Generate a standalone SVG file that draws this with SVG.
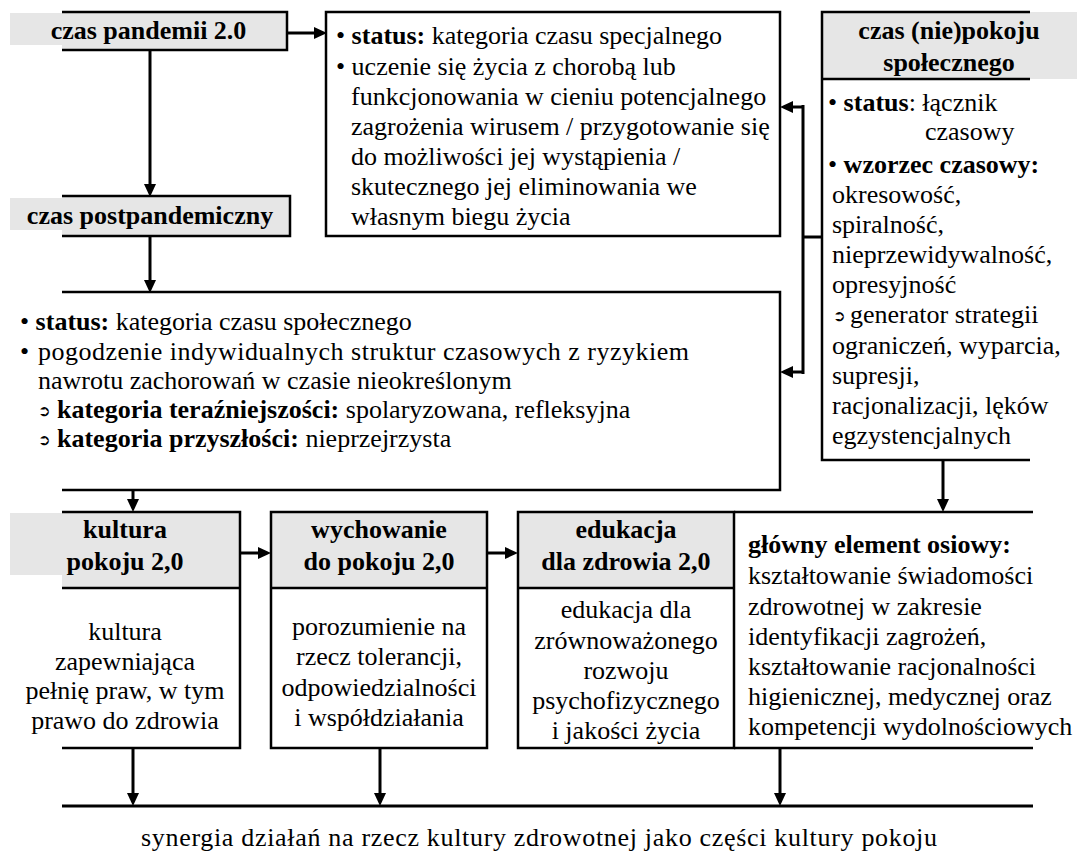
<svg xmlns="http://www.w3.org/2000/svg" width="1077" height="860" viewBox="0 0 1077 860">
<rect width="1077" height="860" fill="#fff"/>

<g id="connectors" stroke="#000" stroke-width="3" fill="none">
<line x1="287" y1="33" x2="314" y2="33"/>
<polygon points="314,27 327,33 314,39" fill="#000" stroke="none"/>
<line x1="150" y1="50" x2="150" y2="184"/>
<polygon points="144,184 150,197 156,184" fill="#000" stroke="none"/>
<line x1="150" y1="236" x2="150" y2="280"/>
<polygon points="144,280 150,293 156,280" fill="#000" stroke="none"/>
<line x1="822" y1="237" x2="803" y2="237"/>
<line x1="803" y1="105" x2="803" y2="374"/>
<line x1="804" y1="107" x2="792" y2="107"/>
<polygon points="793,101 780,107 793,113" fill="#000" stroke="none"/>
<line x1="804" y1="372" x2="792" y2="372"/>
<polygon points="793,366 780,372 793,378" fill="#000" stroke="none"/>
<line x1="133" y1="490" x2="133" y2="500"/>
<polygon points="127,499 133,512 139,499" fill="#000" stroke="none"/>
<line x1="240" y1="553" x2="259" y2="553"/>
<polygon points="258,547 271,553 258,559" fill="#000" stroke="none"/>
<line x1="487" y1="553" x2="506" y2="553"/>
<polygon points="505,547 518,553 505,559" fill="#000" stroke="none"/>
<line x1="943" y1="460" x2="943" y2="500"/>
<polygon points="937,499 943,512 949,499" fill="#000" stroke="none"/>
<line x1="133" y1="748" x2="133" y2="794"/>
<polygon points="127,793 133,806 139,793" fill="#000" stroke="none"/>
<line x1="380" y1="748" x2="380" y2="794"/>
<polygon points="374,793 380,806 386,793" fill="#000" stroke="none"/>
<line x1="780" y1="748" x2="780" y2="794"/>
<polygon points="774,793 780,806 786,793" fill="#000" stroke="none"/>
<line x1="62" y1="806" x2="1033" y2="806"/>
</g>

<g id="czas-pandemii">
<rect x="10" y="13" width="52" height="32" fill="#e6e6e6"/>
<rect x="62" y="12" width="225" height="38" fill="#e6e6e6"/>
<path d="M62,12 H287 V50 H62" fill="none" stroke="#000" stroke-width="2.5"/>
<text font-family="Liberation Serif" font-size="26" font-weight="bold" text-anchor="middle" x="148.5" y="39">czas pandemii 2.0</text>
</g>

<g id="status-specjalny">
<rect x="326" y="12" width="454" height="224" fill="none" stroke="#000" stroke-width="2.5"/>
<text font-family="Liberation Serif" font-size="26" x="336" y="44">• <tspan font-weight="bold">status:</tspan> kategoria czasu specjalnego</text>
<text font-family="Liberation Serif" font-size="26" x="336" y="75">• uczenie się życia z chorobą lub</text>
<text font-family="Liberation Serif" font-size="26" x="351" y="105">funkcjonowania w cieniu potencjalnego</text>
<text font-family="Liberation Serif" font-size="26" x="351" y="135">zagrożenia wirusem / przygotowanie się</text>
<text font-family="Liberation Serif" font-size="26" x="351" y="165">do możliwości jej wystąpienia /</text>
<text font-family="Liberation Serif" font-size="26" x="351" y="195">skutecznego jej eliminowania we</text>
<text font-family="Liberation Serif" font-size="26" x="351" y="225">własnym biegu życia</text>
</g>

<g id="czas-postpandemiczny">
<rect x="10" y="198" width="52" height="32" fill="#e6e6e6"/>
<rect x="62" y="196" width="228" height="40" fill="#e6e6e6"/>
<path d="M62,196 H290 V236 H62" fill="none" stroke="#000" stroke-width="2.5"/>
<text font-family="Liberation Serif" font-size="26" font-weight="bold" text-anchor="middle" x="150" y="224">czas postpandemiczny</text>
</g>

<g id="status-spoleczny">
<path d="M62,292 H780 V490 H62" fill="none" stroke="#000" stroke-width="2.5"/>
<text font-family="Liberation Serif" font-size="26" x="20" y="330">• <tspan font-weight="bold">status:</tspan> kategoria czasu społecznego</text>
<text font-family="Liberation Serif" font-size="26" x="20" y="360">•</text>
<text font-family="Liberation Serif" font-size="26" x="38" y="360" textLength="651" lengthAdjust="spacing">pogodzenie indywidualnych struktur czasowych z ryzykiem</text>
<text font-family="Liberation Serif" font-size="26" x="38" y="389">nawrotu zachorowań w czasie nieokreślonym</text>
<text font-family="DejaVu Sans" font-size="15" x="38" y="416">➲</text>
<text font-family="Liberation Serif" font-size="26" x="57" y="418"><tspan font-weight="bold">kategoria teraźniejszości:</tspan> spolaryzowana, refleksyjna</text>
<text font-family="DejaVu Sans" font-size="15" x="38" y="445">➲</text>
<text font-family="Liberation Serif" font-size="26" x="57" y="447"><tspan font-weight="bold">kategoria przyszłości:</tspan> nieprzejrzysta</text>
</g>

<g id="czas-niepokoju">
<rect x="822" y="12" width="255" height="67" fill="#e6e6e6"/>
<path d="M1030,12 H822 V460 H1030 M822,79 H1030" fill="none" stroke="#000" stroke-width="2.5"/>
<text font-family="Liberation Serif" font-size="26" font-weight="bold" text-anchor="middle" x="949" y="39">czas (nie)pokoju</text>
<text font-family="Liberation Serif" font-size="26" font-weight="bold" text-anchor="middle" x="949" y="71">społecznego</text>
<text font-family="Liberation Serif" font-size="26" x="828" y="111">• <tspan font-weight="bold">status</tspan>: łącznik</text>
<text font-family="Liberation Serif" font-size="26" x="925" y="140">czasowy</text>
<text font-family="Liberation Serif" font-size="26" x="828" y="173">• <tspan font-weight="bold">wzorzec czasowy:</tspan></text>
<text font-family="Liberation Serif" font-size="26" x="832" y="203">okresowość,</text>
<text font-family="Liberation Serif" font-size="26" x="832" y="233">spiralność,</text>
<text font-family="Liberation Serif" font-size="26" x="832" y="263">nieprzewidywalność,</text>
<text font-family="Liberation Serif" font-size="26" x="832" y="293">opresyjność</text>
<text font-family="DejaVu Sans" font-size="15" x="833" y="321">➲</text>
<text font-family="Liberation Serif" font-size="26" x="850" y="323">generator strategii</text>
<text font-family="Liberation Serif" font-size="26" x="832" y="354">ograniczeń, wyparcia,</text>
<text font-family="Liberation Serif" font-size="26" x="832" y="384">supresji,</text>
<text font-family="Liberation Serif" font-size="26" x="832" y="414">racjonalizacji, lęków</text>
<text font-family="Liberation Serif" font-size="26" x="832" y="444">egzystencjalnych</text>
</g>

<g id="kultura-pokoju">
<rect x="10" y="513" width="52" height="62" fill="#e6e6e6"/>
<rect x="62" y="512" width="178" height="76" fill="#e6e6e6"/>
<path d="M62,512 H240 V748 H62 M62,588 H240" fill="none" stroke="#000" stroke-width="2.5"/>
<text font-family="Liberation Serif" font-size="26" font-weight="bold" text-anchor="middle" x="125" y="538">kultura</text>
<text font-family="Liberation Serif" font-size="26" font-weight="bold" text-anchor="middle" x="125" y="570">pokoju 2,0</text>
<text font-family="Liberation Serif" font-size="26" text-anchor="middle" x="125" y="640">kultura</text>
<text font-family="Liberation Serif" font-size="26" text-anchor="middle" x="125" y="670">zapewniająca</text>
<text font-family="Liberation Serif" font-size="26" text-anchor="middle" x="125" y="699">pełnię praw, w tym</text>
<text font-family="Liberation Serif" font-size="26" text-anchor="middle" x="125" y="729">prawo do zdrowia</text>
</g>

<g id="wychowanie">
<rect x="271" y="512" width="216" height="76" fill="#e6e6e6"/>
<path d="M271,512 H487 V748 H271 Z M271,588 H487" fill="none" stroke="#000" stroke-width="2.5"/>
<text font-family="Liberation Serif" font-size="26" font-weight="bold" text-anchor="middle" x="379" y="538">wychowanie</text>
<text font-family="Liberation Serif" font-size="26" font-weight="bold" text-anchor="middle" x="379" y="570">do pokoju 2,0</text>
<text font-family="Liberation Serif" font-size="26" text-anchor="middle" x="379" y="635">porozumienie na</text>
<text font-family="Liberation Serif" font-size="26" text-anchor="middle" x="379" y="665">rzecz tolerancji,</text>
<text font-family="Liberation Serif" font-size="26" text-anchor="middle" x="379" y="696">odpowiedzialności</text>
<text font-family="Liberation Serif" font-size="26" text-anchor="middle" x="379" y="726">i współdziałania</text>
</g>

<g id="edukacja">
<rect x="518" y="512" width="216" height="76" fill="#e6e6e6"/>
<path d="M518,512 H734 V748 H518 Z M518,588 H734" fill="none" stroke="#000" stroke-width="2.5"/>
<text font-family="Liberation Serif" font-size="26" font-weight="bold" text-anchor="middle" x="626" y="538">edukacja</text>
<text font-family="Liberation Serif" font-size="26" font-weight="bold" text-anchor="middle" x="626" y="570">dla zdrowia 2,0</text>
<text font-family="Liberation Serif" font-size="26" text-anchor="middle" x="626" y="618">edukacja dla</text>
<text font-family="Liberation Serif" font-size="26" text-anchor="middle" x="626" y="649">zrównoważonego</text>
<text font-family="Liberation Serif" font-size="26" text-anchor="middle" x="626" y="679">rozwoju</text>
<text font-family="Liberation Serif" font-size="26" text-anchor="middle" x="626" y="709">psychofizycznego</text>
<text font-family="Liberation Serif" font-size="26" text-anchor="middle" x="626" y="739">i jakości życia</text>
</g>

<g id="glowny-element">
<path d="M734,512 H1033 M734,748 H1033" fill="none" stroke="#000" stroke-width="2.5"/>
<text font-family="Liberation Serif" font-size="26" font-weight="bold" x="748" y="553">główny element osiowy:</text>
<text font-family="Liberation Serif" font-size="26" x="748" y="584">kształtowanie świadomości</text>
<text font-family="Liberation Serif" font-size="26" x="748" y="615">zdrowotnej w zakresie</text>
<text font-family="Liberation Serif" font-size="26" x="748" y="645">identyfikacji zagrożeń,</text>
<text font-family="Liberation Serif" font-size="26" x="748" y="675">kształtowanie racjonalności</text>
<text font-family="Liberation Serif" font-size="26" x="748" y="705">higienicznej, medycznej oraz</text>
<text font-family="Liberation Serif" font-size="26" x="748" y="735">kompetencji wydolnościowych</text>
</g>

<g id="synergia">
<text font-family="Liberation Serif" font-size="26" text-anchor="middle" x="539" y="846" textLength="796" lengthAdjust="spacing">synergia działań na rzecz kultury zdrowotnej jako części kultury pokoju</text>
</g>
</svg>
